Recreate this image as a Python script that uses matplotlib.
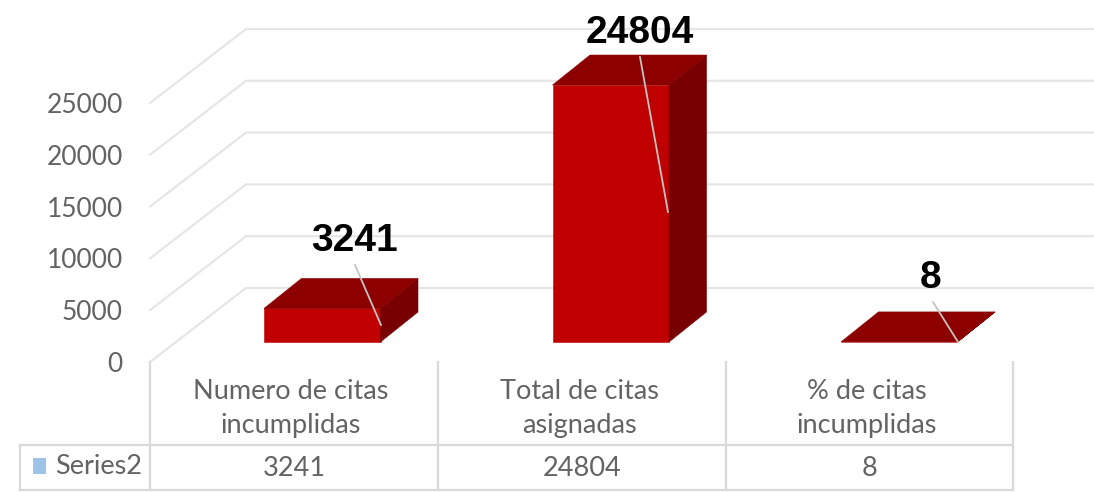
import matplotlib
matplotlib.use("Agg")
import matplotlib.pyplot as plt
from matplotlib.patches import Polygon

categories = ["Numero de citas\nincumplidas", "Total de citas\nasignadas", "% de citas\nincumplidas"]
values = [3241, 24804, 8]
series_name = "Series2"
y_ticks = [0, 5000, 10000, 15000, 20000, 25000]

W, H = 1094, 492
PX_PER_UNIT = 259 / 25000   # vertical pixels per value unit
AXIS_Y = 362                # pixel row of value 0 on the front edge
AXIS_X = 150

def u(px_up):
    """pixels up from value-0 front edge -> value units"""
    return px_up / PX_PER_UNIT

def yp(row):
    """image pixel row -> y data"""
    return u(AXIS_Y - row)

fig = plt.figure(figsize=(W / 100, H / 100), dpi=100, facecolor="white")
ax = fig.add_axes([AXIS_X / W, 1 - AXIS_Y / H, 1 - AXIS_X / W, AXIS_Y / H])
ax.set_xlim(AXIS_X, W)
ax.set_ylim(0, u(AXIS_Y))
for s in ax.spines.values():
    s.set_visible(False)
ax.set_xticks([])
ax.set_yticks(y_ticks)
ax.tick_params(axis="y", length=0, pad=19.5, labelsize=19, labelcolor="#636363")
for t in ax.get_yticklabels():
    t.set_fontfamily("Lato")

GRID = "#e6e6e6"
LINE = "#d9d9d9"
WALL_DX, WALL_DY = 96, 74
for v in y_ticks:
    ax.plot([AXIS_X, AXIS_X + WALL_DX, W], [v, v + u(WALL_DY), v + u(WALL_DY)],
            color=GRID, lw=1.6, clip_on=False, zorder=1, solid_joinstyle="miter")

# 3D bars
FIRST_LEFT, STEP, BAR_W = 264, 288.5, 116.5
DEPTH_X, DEPTH_Y = 37.5, 30
BASE = u(20)
FRONT, TOP, SIDE = "#c00000", "#8c0000", "#780000"
leaders = [((355, 265), (381, 325)), ((640, 57), (668, 212)), ((933, 302), (958, 342))]
label_pos = [(355, 241), (640, 33), (931, 278)]
for i, val in enumerate(values):
    x0 = FIRST_LEFT + STEP * i
    x1 = x0 + BAR_W
    top = BASE + val
    dy = u(DEPTH_Y)
    ax.add_patch(Polygon([(x0, BASE), (x1, BASE), (x1, top), (x0, top)], fc=FRONT, ec=FRONT, lw=0.4, zorder=3))
    ax.add_patch(Polygon([(x1, BASE), (x1 + DEPTH_X, BASE + dy), (x1 + DEPTH_X, top + dy), (x1, top)],
                         fc=SIDE, ec=SIDE, lw=0.4, zorder=3))
    ax.add_patch(Polygon([(x0, top), (x1, top), (x1 + DEPTH_X, top + dy), (x0 + DEPTH_X, top + dy)],
                         fc=TOP, ec=TOP, lw=0.4, zorder=4))
    (ax_, ay_), (bx_, by_) = leaders[i]
    ax.plot([ax_, bx_], [yp(ay_), yp(by_)], color="#c4c4c4", lw=1.3, zorder=5, clip_on=False)
    lx, ly = label_pos[i]
    ax.text(lx, yp(ly), str(val), ha="center", va="center", fontsize=28, fontweight="bold",
            family="Liberation Sans", color="#000000", zorder=6, clip_on=False)

# Data table under the axis
TEXT = "#636363"
cols = [150, 438, 726, 1013]
for x in cols:
    ax.plot([x, x], [yp(362), yp(490)], color=LINE, lw=1.6, clip_on=False, zorder=2)
ax.plot([20, 1013], [yp(445), yp(445)], color=LINE, lw=1.6, clip_on=False, zorder=2)
ax.plot([20, 1013], [yp(490), yp(490)], color=LINE, lw=1.6, clip_on=False, zorder=2)
ax.plot([20, 20], [yp(445), yp(490)], color=LINE, lw=1.6, clip_on=False, zorder=2)
for i, (cat, val) in enumerate(zip(categories, values)):
    cx = (cols[i] + cols[i + 1]) / 2
    ax.text(cx - 3, yp(408.5), cat, ha="center", va="center", fontsize=19.5, family="Lato",
            color=TEXT, linespacing=1.45, clip_on=False)
    ax.text(cx, yp(468), str(val), ha="center", va="center", fontsize=19.5, family="Lato",
            color=TEXT, clip_on=False)
ax.add_patch(Polygon([(33, yp(458)), (46, yp(458)), (46, yp(474)), (33, yp(474))],
                     fc="#9dc3e6", ec="none", clip_on=False))
ax.text(55, yp(466), series_name, ha="left", va="center", fontsize=19.5, family="Lato",
        color=TEXT, clip_on=False)

fig.savefig("out.png", dpi=100)
